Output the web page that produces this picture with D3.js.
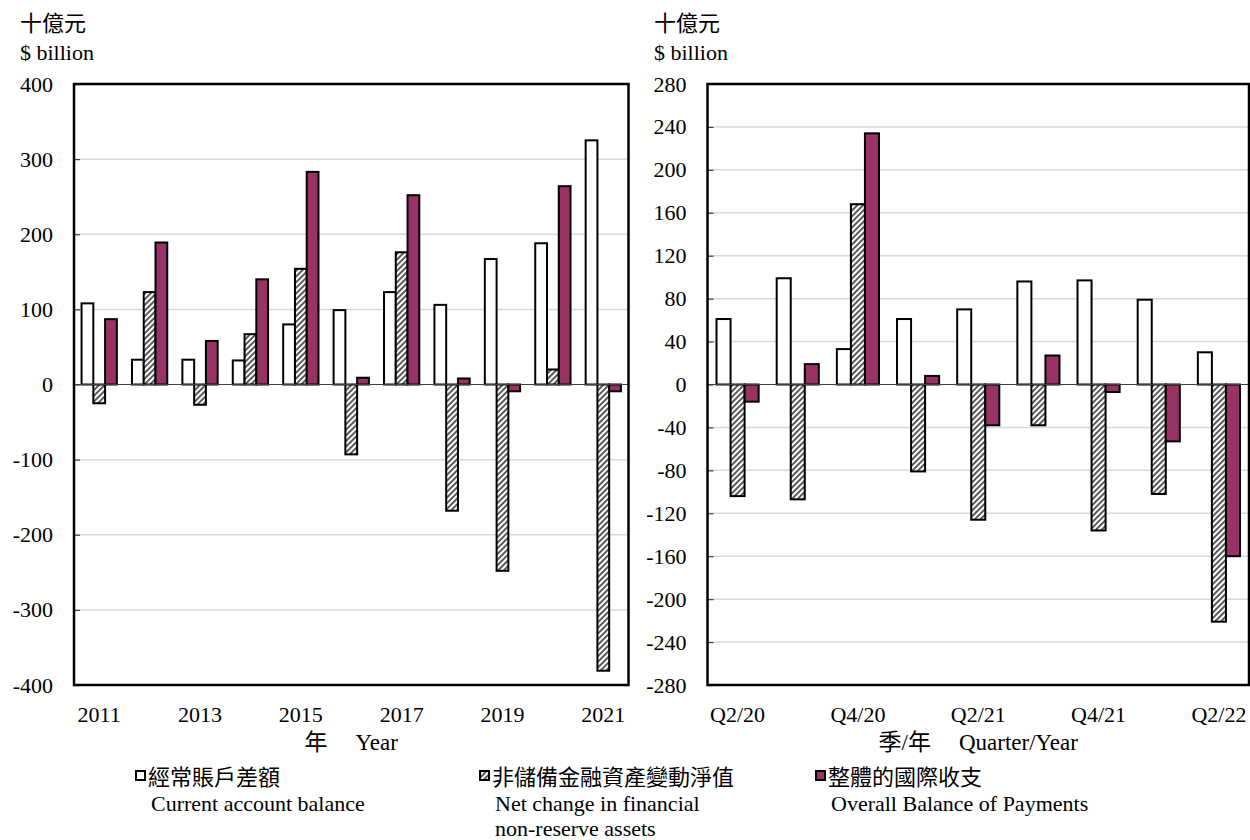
<!DOCTYPE html>
<html>
<head>
<meta charset="utf-8">
<script src="https://d3js.org/d3.v7.min.js"></script>
<style>
  body { margin: 0; background: #fff; }
  svg text { font-family: "Liberation Serif", "Times New Roman", "Noto Sans CJK TC", serif; fill: #000; }
</style>
</head>
<body>
<svg id="chart" width="1250" height="840"></svg>
<script>
// annual data, $ billion
let years = ["2011","2012","2013","2014","2015","2016","2017","2018","2019","2020","2021"];
let annualCA  = [108, 33, 33, 32, 80, 99, 123, 106, 167, 188, 325];
let annualNR  = [-25, 123, -27, 67, 154, -93, 176, -168, -248, 20, -381];
let annualBOP = [87, 189, 58, 140, 283, 9, 252, 8, -9, 264, -9];
let annualTicks = [400, 300, 200, 100, 0, -100, -200, -300, -400];

// quarterly data, $ billion
let quarters = ["Q2/20","Q3/20","Q4/20","Q1/21","Q2/21","Q3/21","Q4/21","Q1/22","Q2/22"];
let quarterCA  = [61, 99, 33, 61, 70, 96, 97, 79, 30];
let quarterNR  = [-104, -107, 168, -81, -126, -38, -136, -102, -221];
let quarterBOP = [-16, 19, 234, 8, -38, 27, -7, -53, -160];
let quarterTicks = [280, 240, 200, 160, 120, 80, 40, 0, -40, -80, -120, -160, -200, -240, -280];

let seriesKeys = ["ca", "nr", "bop"];
let legendZh = ["經常賬戶差額", "非儲備金融資產變動淨值", "整體的國際收支"];
let legendEn = [["Current account balance"], ["Net change in financial", "non-reserve assets"], ["Overall Balance of Payments"]];

const PURPLE = "#993366";
let svg = d3.select("#chart");

// hatch pattern for the non-reserve series
let defs = svg.append("defs");
let pat = defs.append("pattern")
  .attr("id", "hatch")
  .attr("patternUnits", "userSpaceOnUse")
  .attr("width", 4).attr("height", 4)
  .attr("patternTransform", "rotate(45)");
pat.append("rect").attr("width", 4).attr("height", 4).attr("fill", "#fff");
pat.append("line").attr("x1", 2).attr("y1", 0).attr("x2", 2).attr("y2", 4)
  .attr("stroke", "#000").attr("stroke-width", 1.3);

function fillFor(key) {
  if (key == "ca") return "#fff";
  if (key == "nr") return "url(#hatch)";
  return PURPLE;
}

function drawPanel(p) {
  let g = svg.append("g");
  let w = p.x1 - p.x0;

  let x = d3.scaleBand().domain(p.cats).range([p.x0, p.x1]);
  let inner = d3.scaleBand().domain(seriesKeys)
    .range([x.bandwidth() * 0.15, x.bandwidth() * 0.85]);
  let y = d3.scaleLinear().domain([p.ticks[p.ticks.length - 1], p.ticks[0]]).range([p.y1, p.y0]);

  // gridlines
  g.append("g").selectAll("line").data(p.ticks.filter(t => t != 0)).join("line")
    .attr("x1", p.x0).attr("x2", p.x1)
    .attr("y1", d => y(d)).attr("y2", d => y(d))
    .attr("stroke", "#d9d9d9").attr("stroke-width", 1.5);

  // y axis labels with short inner ticks (plain hyphen for negatives)
  let ya = g.append("g").attr("transform", `translate(${p.x0},0)`)
    .call(d3.axisLeft(y).tickValues(p.ticks).tickSizeInner(-6).tickSizeOuter(0).tickPadding(21).tickFormat(d => String(d)));
  ya.select(".domain").remove();
  ya.selectAll(".tick line").attr("stroke", "#404040").attr("stroke-width", 1.2);
  ya.selectAll("text").attr("font-size", 22).style("font-family", "Liberation Serif");

  // x axis labels, every other category
  let xa = g.append("g").attr("transform", `translate(0,${p.y1})`)
    .call(d3.axisBottom(x).tickValues(p.cats.filter((c, i) => i % 2 == 0)).tickSize(0).tickPadding(21));
  xa.select(".domain").remove();
  xa.selectAll("text").attr("font-size", 22).style("font-family", "Liberation Serif");

  // bars
  let rows = p.cats.map((c, i) => ({cat: c, ca: p.ca[i], nr: p.nr[i], bop: p.bop[i]}));
  g.append("g").selectAll("g").data(rows).join("g")
    .attr("transform", d => `translate(${x(d.cat)},0)`)
    .selectAll("rect").data(d => seriesKeys.map(k => ({key: k, value: d[k]}))).join("rect")
      .attr("x", d => inner(d.key))
      .attr("width", inner.bandwidth())
      .attr("y", d => y(Math.max(0, d.value)))
      .attr("height", d => Math.abs(y(d.value) - y(0)))
      .attr("fill", d => fillFor(d.key))
      .attr("stroke", "#000").attr("stroke-width", 2);

  // zero line
  g.append("line").attr("x1", p.x0).attr("x2", p.x1).attr("y1", y(0)).attr("y2", y(0))
    .attr("stroke", "#404040").attr("stroke-width", 1.2);

  // frame
  g.append("rect").attr("x", p.x0).attr("y", p.y0).attr("width", w).attr("height", p.y1 - p.y0)
    .attr("fill", "none").attr("stroke", "#000").attr("stroke-width", 2.5);

  // unit labels
  g.append("text").attr("x", p.unitX).attr("y", 31).attr("font-size", 22).text("十億元");
  g.append("text").attr("x", p.unitX).attr("y", 60).attr("font-size", 22).text("$ billion");

  // x axis title
  let t = g.append("text").attr("x", (p.x0 + p.x1) / 2).attr("y", 750)
    .attr("font-size", 23).attr("text-anchor", "middle");
  t.append("tspan").text(p.titleZh);
  t.append("tspan").attr("dx", 28).text(p.titleEn);
}

drawPanel({cats: years, ca: annualCA, nr: annualNR, bop: annualBOP, ticks: annualTicks,
  x0: 74, x1: 628.5, y0: 84, y1: 685, unitX: 20, titleZh: "年", titleEn: "Year"});
drawPanel({cats: quarters, ca: quarterCA, nr: quarterNR, bop: quarterBOP, ticks: quarterTicks,
  x0: 707.5, x1: 1249, y0: 84, y1: 685, unitX: 654, titleZh: "季/年", titleEn: "Quarter/Year"});

// legend
let legX = [136, 480, 816];
let leg = svg.append("g").selectAll("g").data(seriesKeys).join("g")
  .attr("transform", (d, i) => `translate(${legX[i]},0)`);
leg.append("rect").attr("x", 0).attr("y", 771).attr("width", 9).attr("height", 9)
  .attr("fill", d => fillFor(d)).attr("stroke", "#000").attr("stroke-width", 2);
leg.append("text").attr("x", 12).attr("y", 785).attr("font-size", 22)
  .text((d, i) => legendZh[i]);
leg.each(function(d, i) {
  d3.select(this).selectAll("text.en").data(legendEn[i]).join("text")
    .attr("class", "en")
    .attr("x", 15).attr("y", (s, j) => 811 + j * 25).attr("font-size", 22)
    .text(s => s);
});
</script>
</body>
</html>
